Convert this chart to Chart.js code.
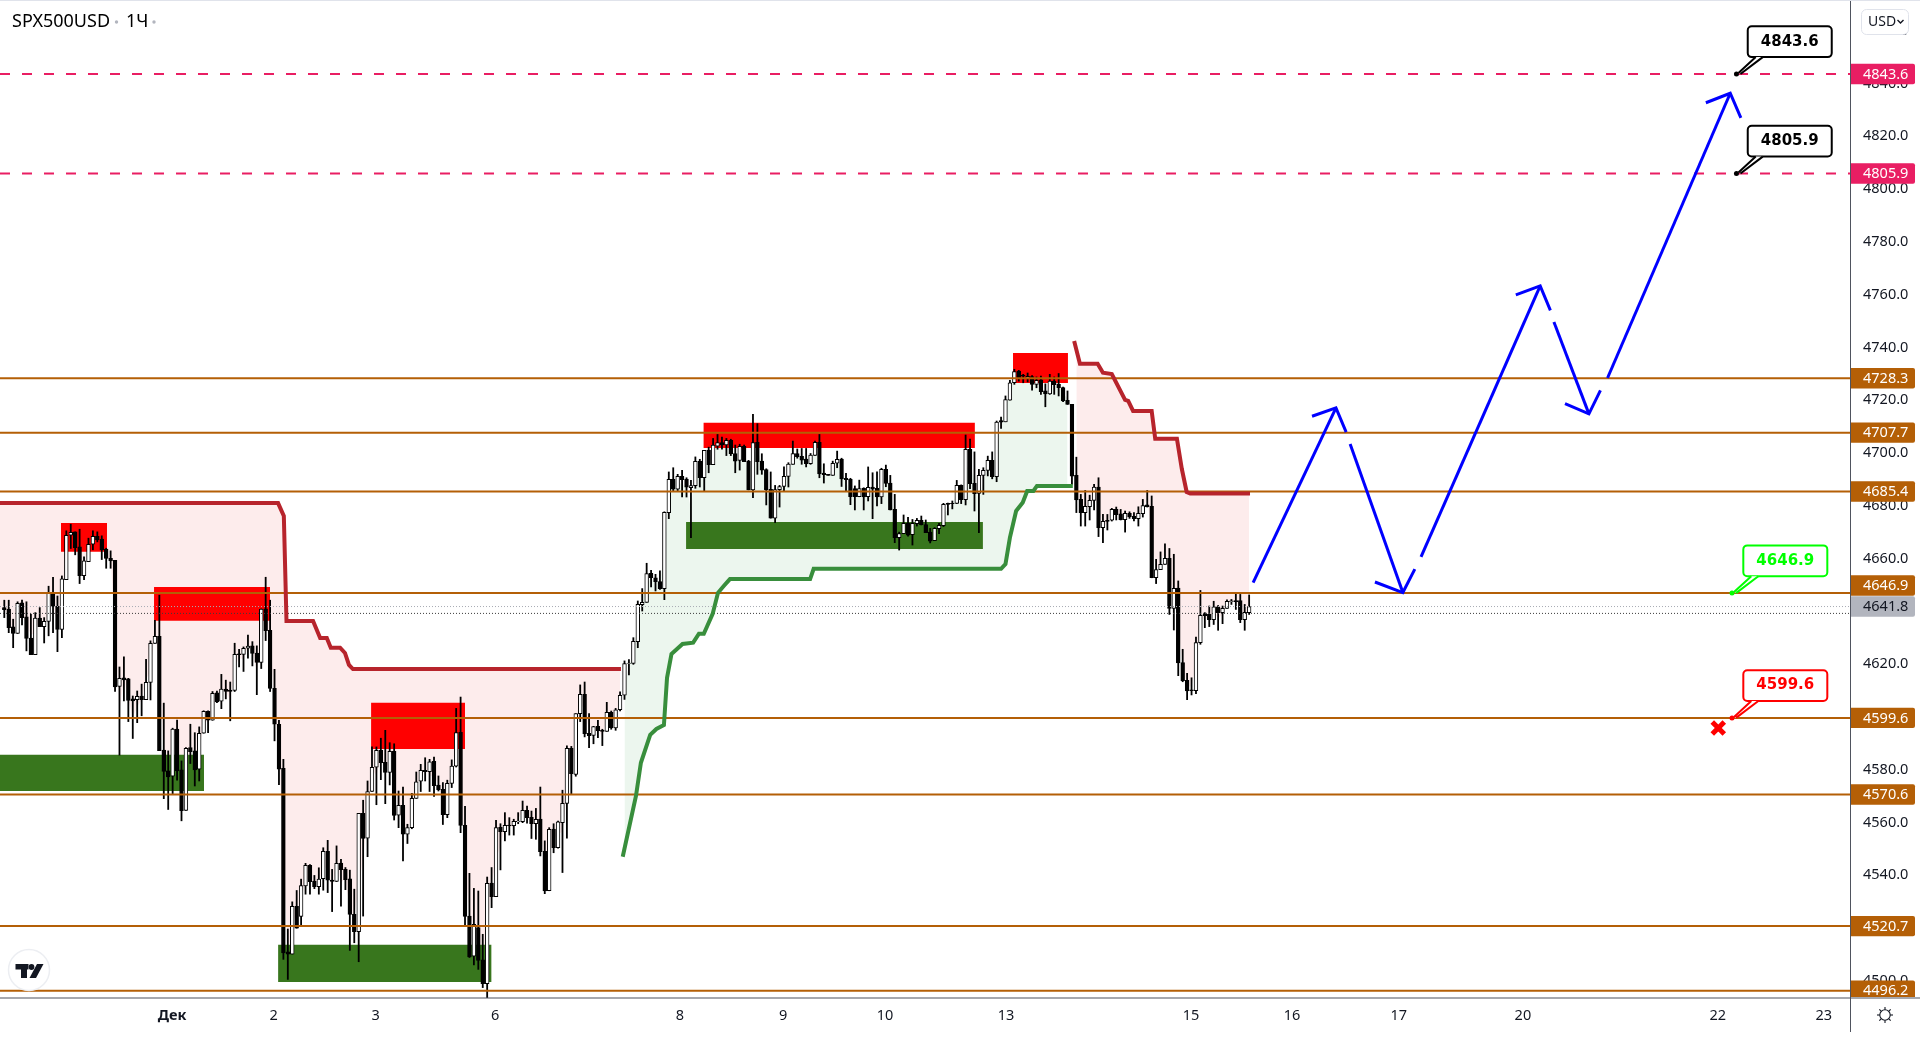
<!DOCTYPE html>
<html><head><meta charset="utf-8">
<style>html,body{margin:0;padding:0;background:#fff;overflow:hidden}canvas{display:block}</style>
<script src="https://cdn.jsdelivr.net/npm/chart.js@4/dist/chart.umd.js"></script>
</head><body><canvas id="c" width="1920" height="1044"></canvas>
<script>
const open=[4641.4,4640.8,4634.1,4631.6,4643.2,4637.9,4629.8,4623.6,4637.4,4634.2,
4636.2,4647.2,4641.9,4633.1,4652.0,4668.8,4670.1,4664.4,4653.5,4658.8,
4665.4,4668.4,4667.4,4663.5,4660.1,4659.3,4611.5,4614.8,4614.4,4606.8,
4606.5,4607.9,4606.5,4613.0,4627.8,4630.5,4587.4,4579.5,4577.5,4595.4,
4579.9,4564.5,4588.4,4587.1,4580.2,4593.8,4602.1,4598.7,4609.1,4605.9,
4610.5,4610.1,4610.0,4623.9,4623.7,4626.0,4626.9,4624.2,4620.6,4640.9,
4632.8,4610.8,4597.2,4580.5,4511.0,4510.1,4528.2,4524.4,4535.9,4543.7,
4537.8,4535.6,4538.7,4549.0,4538.1,4537.6,4544.6,4542.2,4538.6,4525.2,
4518.6,4563.4,4554.0,4571.7,4580.9,4587.3,4582.8,4578.9,4586.9,4562.7,
4566.5,4555.5,4558.0,4569.1,4575.6,4579.7,4579.2,4583.1,4574.1,4572.5,
4562.9,4574.8,4581.3,4594.1,4558.9,4524.5,4509.3,4520.1,4507.9,4498.9,
4537.0,4531.9,4558.1,4556.5,4559.0,4558.8,4560.3,4560.3,4564.6,4561.9,
4559.5,4561.3,4549.0,4534.1,4557.5,4550.4,4559.9,4567.2,4588.1,4578.2,
4601.2,4608.5,4593.8,4593.0,4596.4,4594.9,4594.5,4601.7,4595.8,4602.7,
4608.2,4620.2,4620.2,4628.5,4642.5,4643.4,4654.4,4652.7,4651.3,4648.6,
4677.4,4690.0,4686.3,4691.1,4690.1,4686.8,4687.6,4696.9,4690.6,4701.1,
4695.6,4702.6,4703.9,4703.0,4704.8,4699.8,4697.2,4702.5,4696.9,4686.0,
4704.0,4696.9,4693.7,4686.2,4675.3,4686.1,4687.3,4691.1,4695.7,4699.8,
4698.7,4697.7,4695.9,4699.1,4704.0,4692.4,4691.9,4691.5,4696.1,4697.7,
4690.4,4690.0,4686.5,4683.4,4686.6,4683.4,4687.1,4686.6,4683.3,4693.8,
4688.6,4678.6,4667.9,4669.4,4673.3,4669.0,4673.2,4674.5,4672.9,4670.0,
4666.8,4671.3,4672.4,4680.9,4680.9,4680.9,4687.7,4682.3,4701.4,4688.5,
4684.7,4691.5,4693.4,4697.2,4691.0,4712.3,4711.8,4720.0,4726.6,4731.0,
4729.4,4728.3,4728.9,4726.0,4727.7,4723.5,4722.4,4727.2,4726.0,4724.8,
4719.9,4718.4,4691.5,4682.4,4677.4,4679.6,4682.0,4687.1,4671.7,4674.5,
4674.5,4678.6,4676.9,4674.7,4677.1,4676.0,4675.1,4677.0,4680.3,4679.8,
4652.7,4655.8,4657.8,4660.1,4641.1,4648.8,4620.6,4613.8,4610.2,4609.9,
4628.1,4638.8,4638.8,4636.8,4641.7,4639.5,4641.1,4643.6,4644.1,4644.1,
4636.8,4639.5];
const close=[4640.6,4633.8,4631.6,4643.0,4637.6,4629.7,4623.6,4637.4,4634.2,4636.2,
4647.2,4641.8,4633.1,4652.3,4668.8,4669.9,4664.1,4653.5,4659.1,4665.4,
4668.4,4667.0,4663.3,4660.0,4659.1,4611.3,4614.6,4614.0,4606.2,4606.0,
4607.8,4606.5,4613.1,4627.9,4630.5,4587.2,4579.3,4577.2,4595.4,4579.5,
4564.4,4588.1,4586.8,4579.9,4593.8,4602.1,4598.7,4608.9,4605.7,4610.5,
4609.6,4609.6,4623.7,4623.6,4626.0,4626.8,4624.0,4620.6,4640.8,4632.7,
4610.8,4597.2,4580.2,4510.5,4510.1,4528.2,4519.9,4536.1,4543.7,4537.5,
4535.6,4538.5,4549.0,4538.1,4537.6,4544.5,4542.1,4538.3,4525.1,4518.6,
4563.4,4553.9,4571.7,4580.9,4587.3,4582.6,4578.9,4586.9,4562.6,4566.5,
4555.5,4558.0,4569.1,4575.4,4579.7,4579.2,4583.0,4573.9,4572.4,4562.9,
4574.8,4581.3,4594.0,4558.9,4524.4,4509.0,4521.4,4507.7,4498.9,4536.9,
4531.9,4558.0,4556.5,4558.9,4558.8,4560.4,4560.5,4564.6,4561.8,4559.5,
4561.2,4548.9,4534.0,4557.4,4550.4,4560.2,4567.2,4588.1,4578.5,4601.2,
4608.5,4593.6,4592.9,4596.3,4594.8,4594.5,4601.7,4595.8,4602.7,4608.2,
4620.2,4620.4,4628.6,4642.6,4643.4,4654.3,4652.7,4651.2,4648.6,4677.5,
4690.0,4686.3,4691.1,4689.9,4687.0,4687.6,4696.8,4690.6,4701.0,4695.6,
4703.0,4703.9,4703.0,4704.8,4699.7,4696.9,4702.5,4696.7,4686.0,4703.9,
4696.7,4693.5,4686.0,4675.3,4686.1,4687.3,4691.1,4695.8,4699.8,4698.6,
4697.3,4695.9,4699.2,4704.0,4692.1,4691.8,4691.5,4696.1,4697.6,4690.2,
4689.9,4683.4,4683.4,4686.5,4683.3,4687.0,4686.3,4683.3,4693.8,4688.5,
4678.4,4667.9,4669.4,4673.3,4668.8,4673.3,4674.5,4672.8,4669.8,4666.6,
4671.4,4672.6,4680.5,4680.5,4680.8,4687.7,4682.3,4701.4,4688.4,4684.6,
4691.5,4693.4,4697.2,4691.0,4711.7,4711.7,4720.2,4726.6,4730.8,4728.3,
4729.1,4729.0,4726.0,4727.5,4723.2,4722.4,4727.2,4725.9,4724.7,4719.7,
4718.4,4691.2,4682.2,4677.4,4679.8,4682.0,4687.1,4671.7,4674.1,4674.1,
4678.6,4676.6,4674.7,4677.1,4675.8,4675.1,4677.1,4680.1,4679.6,4652.7,
4655.8,4657.8,4660.1,4641.1,4648.7,4620.4,4613.7,4609.8,4609.9,4628.1,
4638.5,4638.3,4636.8,4641.7,4639.5,4641.1,4643.8,4644.0,4643.6,4636.8,
4639.6,4641.8];
const high=[4644.2,4644.2,4637.0,4643.6,4644.2,4643.6,4638.9,4639.5,4641.4,4637.6,
4649.5,4652.9,4645.8,4653.4,4670.5,4673.0,4670.1,4671.1,4660.6,4667.7,
4670.5,4670.1,4668.6,4663.9,4662.9,4659.3,4618.9,4622.7,4614.6,4607.9,
4609.8,4612.4,4621.8,4628.8,4636.6,4646.1,4605.2,4587.1,4595.7,4598.8,
4583.3,4588.4,4597.2,4594.0,4596.2,4602.3,4602.3,4609.6,4609.8,4616.1,
4613.9,4613.2,4627.9,4625.6,4626.5,4631.0,4628.5,4626.9,4640.9,4652.9,
4644.2,4618.0,4598.7,4583.9,4519.6,4529.9,4534.2,4538.5,4544.5,4544.0,
4539.9,4542.8,4550.4,4553.2,4542.2,4551.1,4546.0,4542.9,4541.9,4534.7,
4563.4,4568.4,4575.7,4588.6,4588.6,4591.9,4594.9,4590.2,4589.8,4571.9,
4573.4,4559.3,4571.0,4579.1,4582.0,4584.5,4583.9,4584.8,4577.6,4575.1,
4576.0,4583.7,4603.2,4607.5,4566.1,4540.7,4535.0,4534.0,4517.6,4539.3,
4542.9,4560.8,4559.5,4563.7,4561.8,4561.2,4563.7,4568.1,4566.2,4564.3,
4565.3,4573.4,4553.0,4558.0,4559.5,4560.5,4572.2,4589.0,4588.8,4601.2,
4612.1,4613.2,4601.2,4596.4,4598.7,4595.3,4605.5,4602.2,4603.2,4609.5,
4621.2,4621.7,4630.0,4643.9,4648.6,4658.2,4655.5,4654.0,4655.3,4677.7,
4692.8,4694.4,4691.9,4693.4,4690.6,4689.6,4698.5,4697.6,4701.0,4702.2,
4705.5,4707.0,4706.0,4705.5,4705.2,4703.0,4703.3,4703.0,4697.2,4714.6,
4711.1,4699.7,4694.0,4692.8,4687.7,4687.7,4694.7,4696.3,4704.5,4701.5,
4701.7,4701.7,4699.8,4704.5,4707.0,4695.9,4691.9,4696.9,4700.7,4698.0,
4692.3,4690.4,4687.5,4689.7,4686.8,4694.7,4692.5,4692.8,4694.2,4695.4,
4691.5,4684.3,4670.0,4676.5,4675.6,4674.8,4675.2,4676.1,4674.6,4671.4,
4671.7,4673.3,4680.9,4681.0,4681.8,4689.6,4687.9,4706.8,4705.3,4700.4,
4693.8,4694.4,4698.8,4700.4,4712.1,4713.6,4721.6,4727.5,4731.7,4731.3,
4729.8,4730.3,4729.3,4728.8,4729.1,4726.2,4729.8,4728.8,4730.1,4725.0,
4723.5,4718.4,4698.4,4684.3,4685.8,4684.0,4688.1,4690.6,4676.7,4676.7,
4679.0,4679.5,4678.6,4678.0,4677.7,4677.4,4679.6,4682.4,4685.8,4683.7,
4659.7,4662.5,4665.6,4663.8,4661.6,4651.5,4625.6,4616.5,4614.8,4630.2,
4647.9,4639.5,4642.0,4643.8,4642.2,4642.0,4644.3,4644.5,4647.0,4646.4,
4642.6,4646.2];
const low=[4637.6,4631.9,4626.2,4631.6,4634.8,4625.0,4623.6,4623.6,4634.2,4628.0,
4630.7,4631.9,4624.7,4630.0,4652.0,4663.8,4661.4,4650.5,4652.0,4658.8,
4663.3,4666.3,4659.6,4656.3,4656.3,4609.6,4585.5,4606.0,4598.2,4591.8,
4597.8,4600.4,4606.5,4606.4,4627.8,4587.2,4569.0,4564.9,4570.9,4576.0,
4560.6,4564.5,4582.3,4573.8,4575.7,4593.8,4594.0,4598.7,4605.4,4603.1,
4606.8,4598.5,4609.6,4618.9,4617.2,4622.2,4619.3,4608.4,4618.3,4628.9,
4609.6,4590.9,4574.3,4508.1,4500.5,4510.1,4519.9,4520.6,4532.8,4532.8,
4534.9,4532.8,4534.3,4533.4,4526.2,4537.6,4528.3,4534.5,4511.5,4514.4,
4507.2,4524.5,4547.0,4571.7,4566.7,4576.2,4567.1,4574.2,4560.9,4558.0,
4545.4,4552.0,4557.6,4569.1,4571.7,4575.7,4571.7,4569.8,4571.9,4559.2,
4561.8,4573.2,4581.0,4556.1,4520.8,4508.8,4506.0,4504.3,4497.4,4493.0,
4527.7,4531.9,4542.0,4553.0,4555.2,4555.2,4559.5,4559.9,4559.7,4553.9,
4553.6,4547.3,4533.0,4534.1,4548.5,4550.2,4541.0,4554.0,4570.9,4577.5,
4598.2,4592.4,4588.3,4589.8,4592.1,4589.1,4594.5,4595.3,4594.9,4602.2,
4606.6,4615.9,4619.9,4626.2,4640.1,4643.4,4649.2,4647.7,4648.3,4644.4,
4675.1,4685.6,4685.6,4683.3,4683.3,4667.9,4686.6,4687.1,4685.6,4692.5,
4695.6,4701.4,4701.4,4699.0,4699.0,4692.5,4693.5,4696.7,4686.0,4683.1,
4691.9,4691.9,4680.3,4675.3,4673.6,4679.5,4685.6,4687.1,4695.7,4698.0,
4695.7,4694.7,4695.7,4699.1,4690.6,4688.6,4691.5,4691.5,4694.4,4687.3,
4685.6,4680.4,4678.4,4683.4,4678.4,4681.8,4675.1,4679.9,4680.8,4687.2,
4678.4,4666.0,4663.2,4669.4,4668.5,4665.1,4672.3,4672.7,4669.8,4665.9,
4666.8,4669.4,4672.1,4676.5,4678.8,4680.8,4680.8,4680.3,4686.5,4678.0,
4669.8,4684.3,4691.3,4690.2,4689.1,4709.3,4711.8,4720.0,4726.0,4727.2,
4726.6,4726.9,4723.8,4724.7,4722.2,4717.5,4722.2,4722.2,4721.6,4719.4,
4718.4,4688.1,4677.4,4672.3,4672.3,4674.6,4678.4,4668.3,4666.0,4670.8,
4674.2,4674.6,4674.6,4670.0,4675.2,4674.2,4672.3,4675.7,4679.5,4652.7,
4650.5,4655.8,4657.8,4638.8,4632.9,4615.6,4613.3,4606.5,4608.3,4608.8,
4627.5,4633.8,4634.2,4635.0,4632.8,4635.3,4641.1,4642.6,4640.7,4635.7,
4632.8,4638.8];

const yTicks=[4500,4520,4540,4560,4580,4600,4620,4640,4660,4680,4700,4720,4740,4760,4780,4800,4820,4840,4860];
const dayLabels=['Дек','2','3','6','8','9','10','13','15','16','17','20','22','23'];
const dayPos=[37.9,60.8,83.8,110.8,152.5,175.8,198.8,226.1,267.9,290.7,314.8,342.8,386.8,410.7];

const levels=[4728.3,4707.7,4685.4,4646.9,4599.6,4570.6,4520.7,4496.2];
const targets=[4843.6,4805.9];
const lastPrice=4641.8;
const bidLine=4639.2;

const zoneStart=[12.8,33.8,82.8,157.8,227.7];
const zoneEnd=[23.2,60.0,104.0,219.1,240.1];
const zoneTop=[4673.5,4649.2,4605.3,4711.4,4737.9];
const zoneBottom=[4662.6,4636.4,4587.8,4701.9,4726.5];
const demandStart=[-1,61.8,153.9];
const demandEnd=[45.1,110.0,220.9];
const demandTop=[4585.6,4513.6,4673.8];
const demandBottom=[4571.9,4499.5,4663.6];

const trailAX=[-1,61.8,63.1,63.7,69.7,71.3,72.8,73.7,75.8,76.9,77.8,78.7,139.2];
const trailAY=[4681.0,4681.0,4676.1,4636.3,4636.3,4629.9,4629.9,4626.2,4626.2,4624.2,4619.7,4618.1,4618.1];
const trailBX=[241.5,242.8,246.8,248.0,250.0,253.0,253.7,254.8,259.0,259.8,264.7,265.8,266.9,267.7,281.2];
const trailBY=[4742.4,4733.8,4733.8,4730.4,4729.9,4720.1,4719.7,4715.9,4715.9,4705.4,4705.4,4694.0,4685.2,4684.6,4684.6];
const trailGX=[139.6,142.6,143.7,145.8,147.2,148.9,149.6,150.6,153.1,155.5,156.8,157.9,159.9,161.1,162.4,163.8,181.9,182.7,225.0,226.0,227.0,228.4,229.9,230.9,232.3,233.1,241.2];
const trailGY=[4547.0,4570.1,4582.6,4593.2,4595.4,4596.9,4614.8,4623.8,4627.6,4628.1,4631.5,4631.5,4639.0,4647.0,4649.6,4652.2,4652.2,4656.1,4656.1,4657.9,4667.9,4678.0,4681.2,4685.6,4685.6,4687.5,4687.5];

const arrowX=[[281.9,300.6],[295.2,300.6,302.9],[303.8,315.7],[309.4,315.7,318.4],[319.8,346.7],[341.2,346.7,349.0],[349.8,357.7],[352.3,357.7,360.3],[361.9,389.6],[384.1,389.6,392.0]];
const arrowY=[[4650.9,4717.1],[4713.9,4717.1,4707.9],[4703.4,4647.1],[4651.1,4647.1,4656.0],[4660.6,4763.3],[4759.9,4763.3,4754.0],[4749.6,4714.8],[4718.7,4714.8,4723.7],[4728.4,4836.3],[4832.7,4836.3,4827.0]];
const stopMark=[386.9,4595.8];

const calloutX=[391,391,390,390];
const calloutY=[4843.6,4805.9,4646.9,4599.6];
const calloutText=['4843.6','4805.9','4646.9','4599.6'];
const calloutColor=['#000000','#000000','#00ff00','#ff0000'];

const BROWN='#b45f06',PINK='#e91e63',FONT="'Noto Sans',sans-serif";
const ds=[];
const seg=(xs,ys)=>xs.map((x,i)=>({x,y:ys[i]}));
const xMin=-0.97,xMax=416.86;
const baseLine={type:'line',pointRadius:0,pointHoverRadius:0,tension:0,showLine:true,spanGaps:true};

const trailA=ds.length; ds.push({...baseLine,data:seg(trailAX,trailAY),borderColor:'#b7242c',borderWidth:4,order:50,fill:false});
const trailB=ds.length; ds.push({...baseLine,data:seg(trailBX,trailBY),borderColor:'#b7242c',borderWidth:4,order:50,fill:false});
const trailG=ds.length; ds.push({...baseLine,data:seg(trailGX,trailGY),borderColor:'#388e3c',borderWidth:4,order:50,fill:false});
const mid=(a,b)=>{const r=[];for(let i=a;i<=b;i++)r.push({x:i,y:(high[i]+low[i])/2});return r;};
ds.push({...baseLine,data:[{x:-1,y:(high[0]+low[0])/2},...mid(0,139)],borderWidth:0,borderColor:'transparent',backgroundColor:'#fdecec',fill:trailA,order:100});
ds.push({...baseLine,data:mid(242,281),borderWidth:0,borderColor:'transparent',backgroundColor:'#fdecec',fill:trailB,order:100});
ds.push({...baseLine,data:mid(140,240),borderWidth:0,borderColor:'transparent',backgroundColor:'#ecf6ee',fill:trailG,order:100});
zoneStart.forEach((s,i)=>ds.push({...baseLine,data:[{x:s,y:zoneTop[i]},{x:zoneEnd[i],y:zoneTop[i]}],borderWidth:0,borderColor:'transparent',backgroundColor:'#ff0000',fill:{value:zoneBottom[i]},order:90}));
demandStart.forEach((s,i)=>ds.push({...baseLine,data:[{x:s,y:demandTop[i]},{x:demandEnd[i],y:demandTop[i]}],borderWidth:0,borderColor:'transparent',backgroundColor:'#38761d',fill:{value:demandBottom[i]},order:90}));
ds.push({type:'bar',grouped:false,barThickness:1.15,backgroundColor:'#000',borderWidth:0,order:80,
  data:open.map((_,i)=>({x:i,y:[low[i],high[i]]}))});
ds.push({type:'bar',grouped:false,barThickness:3.8,borderColor:'#000',borderWidth:1,borderSkipped:false,order:70,
  backgroundColor:open.map((o,i)=>close[i]>=o?'#ffffff':'#000000'),
  data:open.map((o,i)=>({x:i,y:[o,close[i]]}))});
levels.forEach(v=>ds.push({...baseLine,data:[{x:xMin,y:v},{x:xMax,y:v}],borderColor:BROWN,borderWidth:2,fill:false,order:60}));
targets.forEach(v=>ds.push({...baseLine,data:[{x:xMin,y:v},{x:xMax,y:v}],borderColor:PINK,borderWidth:2,borderDash:[10,12],fill:false,order:60}));
ds.push({...baseLine,data:[{x:xMin,y:lastPrice},{x:xMax,y:lastPrice}],borderColor:'#a8abb3',borderWidth:1,borderDash:[1,2],fill:false,order:65});
ds.push({...baseLine,data:[{x:xMin,y:bidLine},{x:xMax,y:bidLine}],borderColor:'#3c3c3c',borderWidth:1,borderDash:[1,2],fill:false,order:65});
arrowX.forEach((xs,i)=>ds.push({...baseLine,data:seg(xs,arrowY[i]),borderColor:'#0000ff',borderWidth:3,fill:false,order:40,borderJoinStyle:'miter'}));
ds.push({type:'scatter',data:[{x:stopMark[0],y:stopMark[1]}],pointStyle:'crossRot',pointRadius:8.5,pointBorderWidth:5,pointBorderColor:'#ff0000',borderColor:'#ff0000',backgroundColor:'#ff0000',order:30});

function roundRect(ctx,x,y,w,h,r){ctx.beginPath();ctx.roundRect(x,y,w,h,r);}
const overlay={id:'overlay',afterDraw(chart){
  const ctx=chart.ctx,X=chart.scales.x,Y=chart.scales.y;
  ctx.save();
  ctx.fillStyle='#e0e3eb';ctx.fillRect(0,0,1920,1);
  ctx.fillStyle='#4f535e';ctx.fillRect(1850,1,1,1031);ctx.fillRect(0,997.5,1920,1);
  calloutX.forEach((c,i)=>{
    const x0=X.getPixelForValue(c),y0=Y.getPixelForValue(calloutY[i]),col=calloutColor[i];
    const bx=x0+11.3,by=y0-47.7,bw=84,bh=30.8;
    ctx.strokeStyle=col;ctx.lineWidth=2;ctx.fillStyle='#fff';
    roundRect(ctx,bx,by,bw,bh,4);ctx.fill();ctx.stroke();
    ctx.beginPath();ctx.moveTo(bx+8,by+bh);ctx.lineTo(x0+2,y0-1);ctx.lineTo(x0+4,y0);ctx.lineTo(bx+15,by+bh);ctx.closePath();ctx.fill();
    ctx.beginPath();ctx.moveTo(bx+8,by+bh);ctx.lineTo(x0+2,y0-1);ctx.moveTo(x0+4,y0);ctx.lineTo(bx+15,by+bh);ctx.stroke();
    ctx.fillStyle=col;ctx.beginPath();ctx.arc(x0,y0,2.5,0,7);ctx.fill();
    ctx.textAlign='center';ctx.textBaseline='middle';
    ctx.font="bold 15px 'DejaVu Sans',sans-serif";
    ctx.fillText(calloutText[i],bx+bw/2,by+bh/2);
  });
  const tag=(v,col,txt,dy)=>{
    const yc=Y.getPixelForValue(v)+(dy||0);
    ctx.save();ctx.beginPath();ctx.rect(1851,0,69,997);ctx.clip();
    ctx.fillStyle=col;roundRect(ctx,1851,yc-10.2,64,20.4,[0,2,2,0]);ctx.fill();
    ctx.fillStyle=txt;ctx.font="14.5px "+FONT;ctx.textAlign='left';ctx.textBaseline='middle';
    ctx.fillText(v.toFixed(1),1863,yc+0.5);ctx.restore();
  };
  targets.forEach(v=>tag(v,PINK,'#fff'));
  levels.forEach(v=>tag(v,BROWN,'#fff',v===4646.9?-7.6:0));
  tag(lastPrice,'#b2b5be','#131722');
  ctx.fillStyle='#fff';ctx.strokeStyle='#e0e3eb';ctx.lineWidth=1;
  roundRect(ctx,1861.5,9.5,47,25,5);ctx.fill();ctx.stroke();
  ctx.fillStyle='#131722';ctx.font="14px "+FONT;ctx.textAlign='left';ctx.textBaseline='middle';
  ctx.fillText('USD',1868,22);
  ctx.strokeStyle='#131722';ctx.lineWidth=1.4;ctx.beginPath();ctx.moveTo(1897.5,20);ctx.lineTo(1900.5,23);ctx.lineTo(1903.5,20);ctx.stroke();
  ctx.fillStyle='#000000';ctx.font="18px "+FONT;ctx.textAlign='left';ctx.textBaseline='middle';
  ctx.fillText('SPX500USD',12,22);ctx.fillText('1Ч',126,22);
  ctx.fillStyle='#b2b5be';[116.5,154].forEach(x=>{ctx.beginPath();ctx.arc(x,22,1.7,0,7);ctx.fill();});
  ctx.fillStyle='#fff';ctx.strokeStyle='#eceef2';ctx.lineWidth=1.5;ctx.beginPath();ctx.arc(29,970,20.5,0,7);ctx.fill();ctx.stroke();
  ctx.fillStyle='#131722';ctx.fillRect(15.5,964,13,5.5);ctx.fillRect(21,964,6,14);
  ctx.beginPath();ctx.arc(31.5,967,2.9,0,7);ctx.fill();
  ctx.beginPath();ctx.moveTo(37,964);ctx.lineTo(43.5,964);ctx.lineTo(36,978);ctx.lineTo(29.5,978);ctx.closePath();ctx.fill();
  ctx.strokeStyle='#131722';ctx.lineWidth=1.1;ctx.beginPath();ctx.arc(1885,1015,5.2,0,7);ctx.stroke();
  for(let a=0;a<8;a++){const t=a*Math.PI/4;ctx.beginPath();ctx.moveTo(1885+5.2*Math.cos(t),1015+5.2*Math.sin(t));ctx.lineTo(1885+8*Math.cos(t),1015+8*Math.sin(t));ctx.stroke();}
  ctx.restore();
}};

new Chart(document.getElementById('c'),{
  type:'bar',
  data:{datasets:ds},
  plugins:[overlay],
  options:{
    responsive:false,devicePixelRatio:1,animation:false,
    layout:{padding:0,autoPadding:false},
    plugins:{legend:{display:false},tooltip:{enabled:false},title:{display:false}},
    scales:{
      x:{type:'linear',offset:false,min:xMin,max:xMax,
        grid:{display:false,offset:false,drawTicks:false},border:{display:false},
        afterBuildTicks(a){a.ticks=dayPos.map(value=>({value}));},
        afterFit(a){a.height=46;a.paddingLeft=0;a.paddingRight=0;},
        ticks:{autoSkip:false,maxRotation:0,minRotation:0,padding:9,color:'#131722',
          font:c=>({family:FONT,size:14.5,weight:c.tick&&c.tick.value===dayPos[0]?'bold':'normal'}),
          callback:v=>dayLabels[dayPos.indexOf(v)]}},
      y:{type:'linear',position:'right',min:4493.46,max:4871.64,
        grid:{display:false,drawTicks:false},border:{display:false},
        afterBuildTicks(a){a.ticks=yTicks.map(value=>({value}));},
        afterFit(a){a.width=69;a.paddingTop=0;a.paddingBottom=0;},
        ticks:{padding:12,color:'#131722',font:{family:FONT,size:14.5},callback:v=>Number(v).toFixed(1)}}
    }
  }
});
</script></body></html>
